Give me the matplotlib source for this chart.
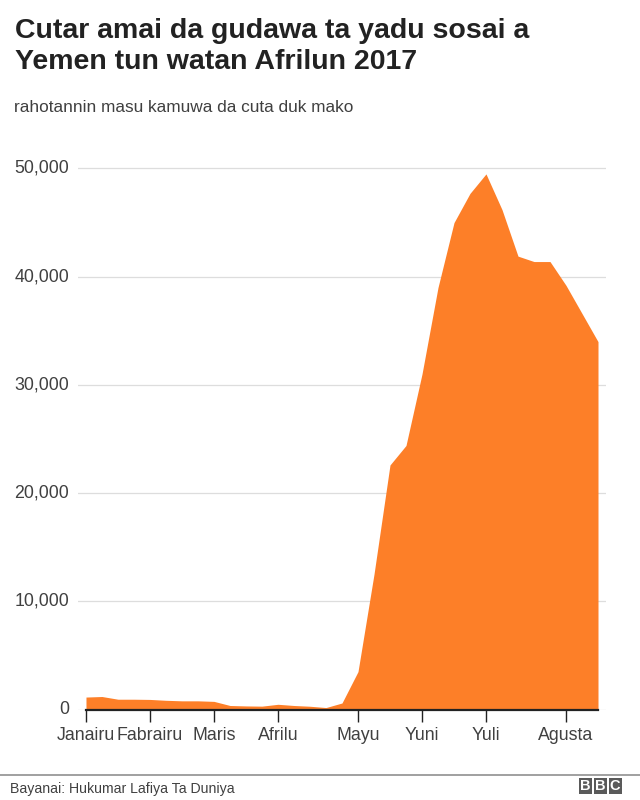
import matplotlib
matplotlib.use("Agg")
import matplotlib.pyplot as plt
from matplotlib.patches import Rectangle
from matplotlib.lines import Line2D

# Weekly reported suspected cholera cases, Yemen 2017 (weeks 1..33)
weeks = list(range(33))
cases = [1150, 1200, 950, 950, 930, 850, 800, 800, 750, 370, 330, 310, 480, 370,
         300, 180, 600, 3500, 12500, 22600, 24400, 31000, 39000, 45000, 47700,
         49500, 46200, 41900, 41400, 41400, 39200, 36600, 34000]
month_ticks = [0, 4, 8, 12, 17, 21, 25, 30]
month_labels = ["Janairu", "Fabrairu", "Maris", "Afrilu", "Mayu", "Yuni", "Yuli", "Agusta"]
y_ticks = [0, 10000, 20000, 30000, 40000, 50000]

title_lines = ["Cutar amai da gudawa ta yadu sosai a", "Yemen tun watan Afrilun 2017"]
subtitle = "rahotannin masu kamuwa da cuta duk mako"
source = "Bayanai: Hukumar Lafiya Ta Duniya"

plt.rcParams['font.family'] = ['Liberation Sans', 'DejaVu Sans']

W, H = 640, 800
fig = plt.figure(figsize=(6.4, 8.0), dpi=100)
y0_px, y50_px = 709.5, 168.5
px_per_unit = (y0_px - y50_px) / 50000
top_px = 164.5
ax = fig.add_axes([77.5 / W, 1 - y0_px / H, (606 - 77.5) / W, (y0_px - top_px) / H])

orange = "#fd7f28"
ax.fill_between(weeks, cases, 0, color=orange, linewidth=0, zorder=2)

ax.set_xlim(-0.53, 32.5)
ax.set_ylim(0, (y0_px - top_px) / px_per_unit)
ax.set_yticks(y_ticks)
ax.set_yticklabels([f"{v:,}" for v in y_ticks])
ax.set_xticks(month_ticks)
ax.set_xticklabels(month_labels)

for s in ["top", "right", "left"]:
    ax.spines[s].set_visible(False)
ax.spines["bottom"].set_bounds(0, 32)
ax.spines["bottom"].set_color("#222222")
ax.spines["bottom"].set_linewidth(1.6)
ax.spines["bottom"].set_zorder(3)

ax.grid(axis="y", color="#dddddd", linewidth=0.9, zorder=0)
ax.tick_params(axis="y", length=0, pad=6, labelsize=12.8, labelcolor="#404040")
ax.tick_params(axis="x", length=8.5, width=1, color="#222222", direction="out",
               pad=4, labelsize=12.8, labelcolor="#404040")
for lab in ax.get_yticklabels():
    lab.set_verticalalignment("center")

fig.text(15 / W, 1 - 37.7 / H, title_lines[0], fontsize=20.5, fontweight="bold",
         color="#222222", va="baseline", ha="left")
fig.text(15 / W, 1 - 69.3 / H, title_lines[1], fontsize=20.5, fontweight="bold",
         color="#222222", va="baseline", ha="left")
fig.text(14 / W, 1 - 111.7 / H, subtitle, fontsize=12.4, color="#404040",
         va="baseline", ha="left")

# footer
fig.add_artist(Line2D([0, 1], [1 - 774.5 / H, 1 - 774.5 / H], color="#999999",
                      linewidth=1.3, transform=fig.transFigure))
fig.text(10 / W, 1 - 788.5 / H, source, fontsize=10.2, color="#404040",
         va="center", ha="left")
bx = 578.5
for i, ch in enumerate("BBC"):
    x0 = bx + i * 15
    fig.add_artist(Rectangle((x0 / W, 1 - 794 / H), 13 / W, 15.7 / H, color="#5a5a5a",
                             transform=fig.transFigure, linewidth=0))
    fig.text((x0 + 6.5) / W, 1 - 786.5 / H, ch, fontsize=10.5, fontweight="bold",
             color="white", ha="center", va="center")

fig.savefig("out.png", dpi=100)
